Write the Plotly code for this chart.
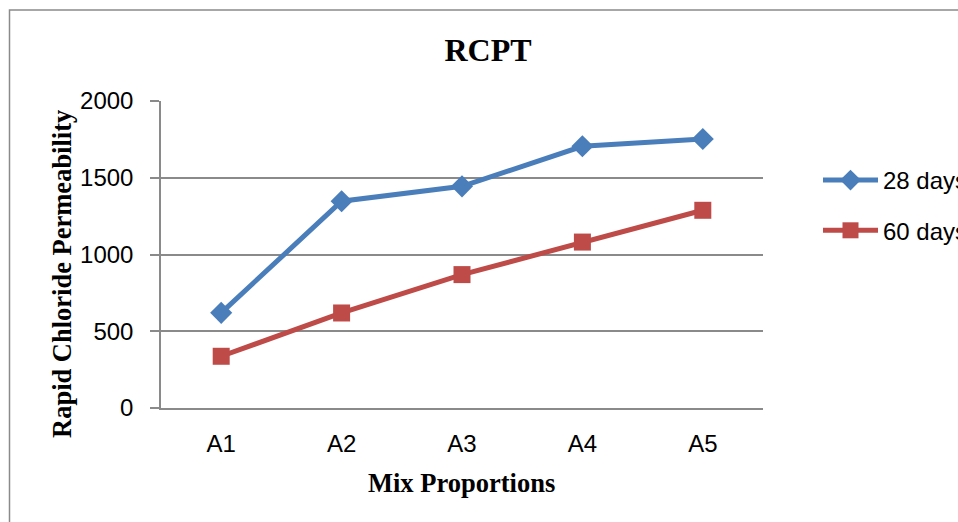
import plotly.graph_objects as go

# Rapid chloride permeability test results per mix
mixes = ["A1", "A2", "A3", "A4", "A5"]
days_28 = [620, 1347, 1444, 1705, 1752]
days_60 = [337, 619, 869, 1081, 1288]
y_ticks = [0, 500, 1000, 1500, 2000]

W, H = 958, 522
L, R, T, B = 161, 195, 101, 114
pw, ph = W - L - R, H - T - B

grid = "#8a8a8a"
serif = "Liberation Serif, Times New Roman, serif"
sans = "Liberation Sans, Arial, sans-serif"

fig = go.Figure()
fig.add_trace(go.Scatter(
    x=mixes, y=days_28, name="28 days", mode="lines+markers",
    line=dict(color="#4A7EBB", width=5),
    marker=dict(symbol="diamond", size=17, color="#4A7EBB"),
    legendgroup="a",
))
fig.add_trace(go.Scatter(
    x=mixes, y=days_60, name="60 days", mode="lines+markers",
    line=dict(color="#BE4B48", width=5),
    marker=dict(symbol="square", size=17, color="#BE4B48"),
    legendgroup="b",
))

def px_x(p):
    return (p - L) / pw

def px_y(p):
    return (H - B - p) / ph

fig.update_layout(
    width=W, height=H,
    margin=dict(l=L, r=R, t=T, b=B, autoexpand=False),
    paper_bgcolor="white", plot_bgcolor="white",
    title=dict(text="<b>RCPT</b>", x=488 / W, xref="container", xanchor="center",
               y=1 - 50 / H, yref="container", yanchor="middle",
               font=dict(family=serif, size=32, color="black")),
    xaxis=dict(
        type="category", range=[-0.5, 4.5],
        showgrid=False, showline=True, linecolor=grid, linewidth=1.5,
        ticks="", tickfont=dict(family=sans, size=24, color="black"),
        ticklabelstandoff=13, zeroline=False, fixedrange=True,
    ),
    yaxis=dict(
        range=[0, 2000], tickvals=y_ticks,
        showgrid=True, gridcolor=grid, gridwidth=1.5,
        showline=True, linecolor=grid, linewidth=1.5,
        ticks="outside", ticklen=9, tickcolor=grid, tickwidth=1.5,
        tickfont=dict(family=sans, size=24, color="black"),
        ticklabelstandoff=12, zeroline=False, fixedrange=True,
    ),
    legend=dict(
        x=px_x(818), xanchor="left", y=px_y(158), yanchor="top",
        font=dict(family=sans, size=24, color="black"),
        itemwidth=55, tracegroupgap=16, traceorder="grouped",
        bgcolor="rgba(0,0,0,0)",
    ),
    showlegend=True,
    annotations=[
        dict(text="<b>Rapid Chloride Permeability</b>", textangle=-90,
             x=px_x(62), y=px_y(274), xref="paper", yref="paper",
             xanchor="center", yanchor="middle", showarrow=False,
             font=dict(family=serif, size=26.5, color="black")),
        dict(text="<b>Mix Proportions</b>",
             x=px_x(461), y=px_y(483), xref="paper", yref="paper",
             xanchor="center", yanchor="middle", showarrow=False,
             font=dict(family=serif, size=26.5, color="black")),
    ],
    shapes=[
        dict(type="rect", xref="paper", yref="paper",
             x0=px_x(9.5), x1=px_x(W + 20), y0=px_y(H + 20), y1=px_y(10),
             line=dict(color="#8a8a8a", width=1.5), fillcolor="rgba(0,0,0,0)",
             layer="below"),
    ],
)

fig.write_html("out.html")
